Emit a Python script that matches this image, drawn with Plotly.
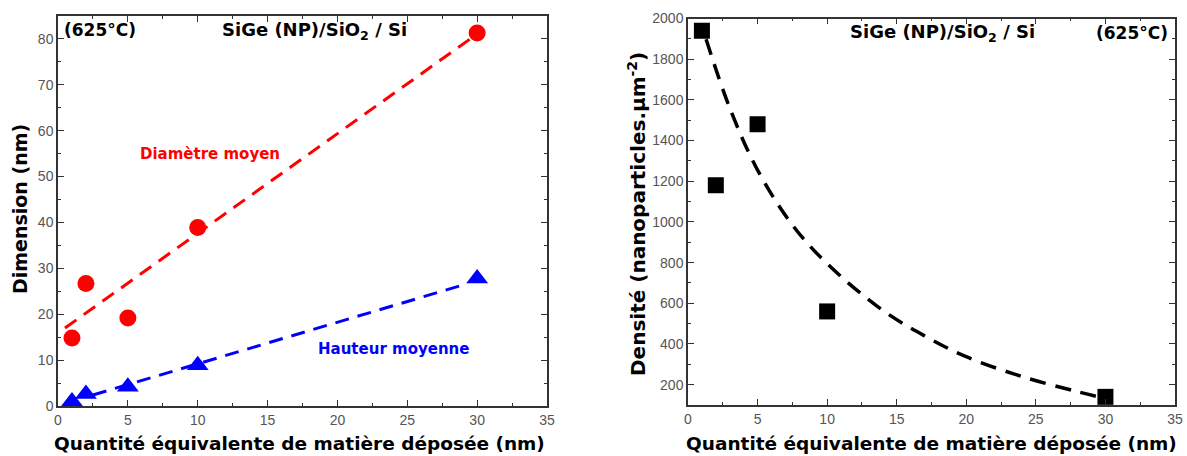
import plotly.graph_objects as go

# ---- data ----
qty = [1, 2, 5, 10, 30]
diametre = [14.8, 26.7, 19.2, 38.9, 81.3]
hauteur = [1.0, 2.6, 4.2, 8.9, 27.8]
densite = [1940, 1180, 1480, 560, 140]

diam_fit_x = [0.5, 29.5]
diam_fit_y = [17.0, 80.0]
haut_fit_x = [2.5, 29.0]
haut_fit_y = [2.4, 26.4]

dens_fit_x = [1.3, 3, 5, 7.5, 10, 13.9, 17, 19.9, 24, 27.9, 29.5]
dens_fit_y = [1898, 1560, 1255, 985, 795, 570, 440, 340, 240, 167, 140]

xticks = [0, 5, 10, 15, 20, 25, 30, 35]
left_yticks = [0, 10, 20, 30, 40, 50, 60, 70, 80]
right_yticks = [200, 400, 600, 800, 1000, 1200, 1400, 1600, 1800, 2000]

TICKFONT = "Arial, Liberation Sans, sans-serif"
FONT = "DejaVu Sans, sans-serif"
RED = "#ff0000"
BLUE = "#0000ff"

fig = go.Figure()

fig.add_trace(go.Scatter(x=diam_fit_x, y=diam_fit_y, mode="lines",
                         line=dict(color=RED, width=3, dash="14px,9px"),
                         xaxis="x", yaxis="y", showlegend=False))
fig.add_trace(go.Scatter(x=haut_fit_x, y=haut_fit_y, mode="lines",
                         line=dict(color=BLUE, width=3, dash="14px,9px"),
                         xaxis="x", yaxis="y", showlegend=False))
fig.add_trace(go.Scatter(x=qty, y=diametre, mode="markers",
                         marker=dict(symbol="circle", size=17, color=RED),
                         xaxis="x", yaxis="y", showlegend=False))
fig.add_trace(go.Scatter(x=qty, y=hauteur, mode="markers",
                         marker=dict(symbol="triangle-up", size=19, color=BLUE),
                         xaxis="x", yaxis="y", showlegend=False))

fig.add_trace(go.Scatter(x=dens_fit_x, y=dens_fit_y, mode="lines",
                         line=dict(color="black", width=3.5, dash="16px,10px", shape="spline"),
                         xaxis="x2", yaxis="y2", showlegend=False))
fig.add_trace(go.Scatter(x=qty, y=densite, mode="markers",
                         marker=dict(symbol="square", size=16, color="black"),
                         xaxis="x2", yaxis="y2", showlegend=False))

W, H = 1187, 456

def px(x):
    return x / W

def py(y):
    return 1 - y / H

axis_common = dict(
    showgrid=False, zeroline=False, showline=True, linecolor="#333333", linewidth=1.5,
    mirror="ticks", ticks="inside", ticklen=6, tickwidth=1.2, tickcolor="#333333",
    tickfont=dict(family=TICKFONT, size=14, color="#555555"), automargin=False,
)

fig.update_layout(
    width=W, height=H,
    margin=dict(l=0, r=0, t=0, b=0),
    paper_bgcolor="white", plot_bgcolor="white",
    xaxis=dict(domain=[px(58), px(547)], range=[0, 35], tickvals=xticks,
               minor=dict(ticks="inside", ticklen=3, dtick=2.5, tickcolor="#333333"),
               anchor="y", **axis_common),
    yaxis=dict(domain=[py(406), py(16)], range=[0, 85], tickvals=left_yticks,
               minor=dict(ticks="inside", ticklen=3, dtick=5, tickcolor="#333333"),
               anchor="x", **axis_common),
    xaxis2=dict(domain=[px(688), px(1175)], range=[0, 35], tickvals=xticks,
                minor=dict(ticks="inside", ticklen=3, dtick=2.5, tickcolor="#333333"),
                anchor="y2", **axis_common),
    yaxis2=dict(domain=[py(405), py(18.5)], range=[100, 2000], tickvals=right_yticks,
                minor=dict(ticks="inside", ticklen=3, dtick=100, tick0=0, tickcolor="#333333"),
                anchor="x2", **axis_common),
)

def ann(text, x, y, size, color="black", angle=0, xanchor="center"):
    fig.add_annotation(text=text, x=px(x), y=py(y), xref="paper", yref="paper",
                       showarrow=False, textangle=angle, xanchor=xanchor, yanchor="middle",
                       font=dict(family=FONT, size=size, color=color))

# axis titles
ann("<b>Dimension (nm)</b>", 20, 209, 19, angle=-90)
ann("<b>Quantité équivalente de matière déposée (nm)</b>", 300, 443, 18.5)
ann("<b>Densité (nanoparticles.µm<sup>-2</sup>)</b>", 637, 214, 20, angle=-90)
ann("<b>Quantité équivalente de matière déposée (nm)</b>", 931, 443, 18.5)

# inside labels
ann("<b>(625°C)</b>", 62, 30, 17, xanchor="left")
ann("<b>SiGe (NP)/SiO<sub>2</sub> / Si</b>", 314, 31, 18)
ann("<b>Diamètre moyen</b>", 210, 154, 15, color=RED)
ann("<b>Hauteur moyenne</b>", 393, 349, 15, color=BLUE)
ann("<b>SiGe (NP)/SiO<sub>2</sub> / Si</b>", 942, 33, 18)
ann("<b>(625°C)</b>", 1170, 33, 17, xanchor="right")

fig.write_html("out.html",
               config={"displayModeBar": False},
               post_script="document.body.style.margin='0px';document.body.style.overflow='hidden';")
